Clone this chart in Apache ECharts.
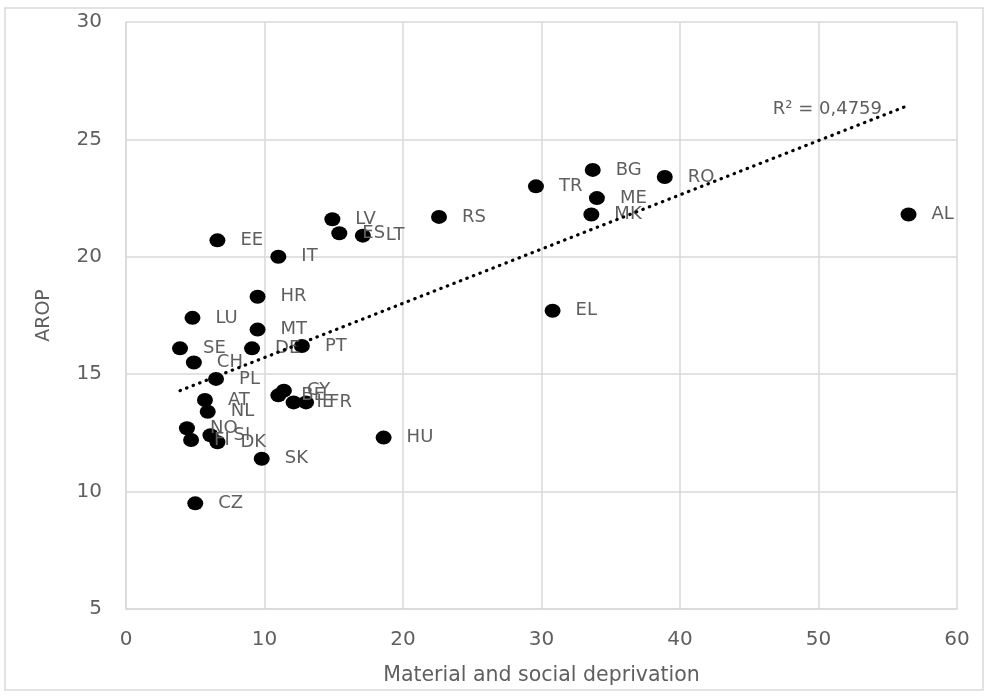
<!DOCTYPE html>
<html>
<head>
<meta charset="utf-8">
<script src="https://cdn.jsdelivr.net/npm/echarts@6/dist/echarts.min.js"></script>
<style>html,body{margin:0;padding:0;background:#fff;}#c{width:987px;height:698px;}</style>
</head>
<body>
<div id="c"></div>
<script>
var countries = ['AL','RO','BG','ME','MK','TR','RS','EL','HU','LV','ES','LT','EE','IT','HR','LU','MT','SE','DE','PT','CH','PL','AT','NL','NO','FI','SI','DK','SK','CZ','CY','BE','IE','FR'];
var deprivation = [56.5,38.9,33.7,34.0,33.6,29.6,22.6,30.8,18.6,14.9,15.4,17.1,6.6,11.0,9.5,4.8,9.5,3.9,9.1,12.7,4.9,6.5,5.7,5.9,4.4,4.7,6.1,6.6,9.8,5.0,11.4,11.0,12.1,13.0];
var arop = [21.8,23.4,23.7,22.5,21.8,23.0,21.7,17.7,12.3,21.6,21.0,20.9,20.7,20.0,18.3,17.4,16.9,16.1,16.1,16.2,15.5,14.8,13.9,13.4,12.7,12.2,12.4,12.1,11.4,9.5,14.3,14.1,13.8,13.8];
var trendX = [3.9, 56.5];
var trendY = [14.3, 26.45];
var r2Text = 'R² = 0,4759';
var r2Pos = [46.7, 26.3];
var xTicks = [0,10,20,30,40,50,60];
var yTicks = [5,10,15,20,25,30];

var points = countries.map(function(n,i){ return {name:n, value:[deprivation[i], arop[i]]}; });
var trend = trendX.map(function(x,i){ return [x, trendY[i]]; });
var FONT = '"DejaVu Sans", sans-serif';
var GREY = '#5f5f5f';
var chart = echarts.init(document.getElementById('c'), null, {renderer:'canvas'});
chart.setOption({
  animation:false,
  backgroundColor:'#fff',
  graphic:[{type:'rect', shape:{x:5,y:8,width:978,height:682}, style:{fill:'none', stroke:'#d9d9d9', lineWidth:1.5}, silent:true}],
  grid:{left:126, right:30, top:22, bottom:89, containLabel:false},
  xAxis:{
    type:'value', min:xTicks[0], max:xTicks[xTicks.length-1], interval:10,
    name:'Material and social deprivation', nameLocation:'middle', nameGap:56,
    nameTextStyle:{color:GREY, fontSize:20.5, fontFamily:FONT},
    axisLine:{show:true, lineStyle:{color:'#d9d9d9', width:1.5}},
    axisTick:{show:false},
    axisLabel:{color:GREY, fontSize:20, fontFamily:FONT, margin:21},
    splitLine:{show:true, lineStyle:{color:'#d9d9d9', width:1.5}}
  },
  yAxis:{
    type:'value', min:yTicks[0], max:yTicks[yTicks.length-1], interval:5,
    name:'AROP', nameLocation:'middle', nameGap:72,
    nameTextStyle:{color:GREY, fontSize:19, fontFamily:FONT},
    axisLine:{show:true, lineStyle:{color:'#d9d9d9', width:1.5}},
    axisTick:{show:false},
    axisLabel:{color:GREY, fontSize:20, fontFamily:FONT, margin:24},
    splitLine:{show:true, lineStyle:{color:'#d9d9d9', width:1.5}}
  },
  series:[
    {
      type:'line', data:trend, showSymbol:false, symbol:'none', silent:true,
      lineStyle:{color:'#000', width:3.2, type:[0.5,6.5], cap:'round'},
      z:3,
      markPoint:{
        symbol:'circle', symbolSize:0, silent:true,
        data:[{coord:r2Pos, value:r2Text}],
        label:{show:true, position:'right', formatter:r2Text, color:GREY, fontSize:18, fontFamily:FONT, distance:0}
      }
    },
    {
      type:'scatter', data:points, symbol:'circle', symbolSize:[16,14],
      itemStyle:{color:'#000', opacity:1},
      z:2,
      label:{show:true, position:'right', distance:15, formatter:'{b}', color:GREY, fontSize:18, fontFamily:FONT}
    }
  ]
});
</script>
</body>
</html>
